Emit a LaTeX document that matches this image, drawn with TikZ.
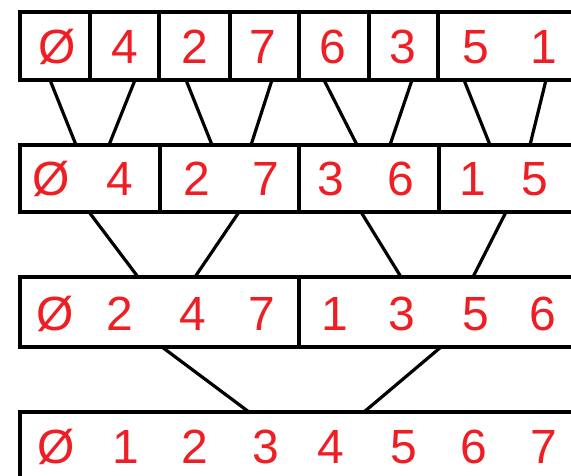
\documentclass[tikz,border=0pt]{standalone}
\usepackage{fontspec}
\setmainfont{Liberation Sans}
\usetikzlibrary{positioning, calc}
\definecolor{digitred}{RGB}{238,30,36}

\tikzset{
    rowbox/.style={draw, line width=3.4pt, inner sep=0pt, outer sep=0pt,
        minimum width=620pt, anchor=north west},
    divider/.style={line width=3.4pt},
    link/.style={line width=3.2pt},
    digit/.style={text=digitred, inner sep=0pt, font=\fontsize{48}{48}\selectfont}
}

\begin{document}
\begin{tikzpicture}[x=1pt, y=-1pt]

    \useasboundingbox (0,0) rectangle (571,476);
    \clip (0,0) rectangle (571,476);

    % Row boxes
    \node[rowbox, minimum height=68pt] (row1) at (20,12) {};
    \node[rowbox, minimum height=67pt] (row2) at (20,145) {};
    \node[rowbox, minimum height=70pt] (row3) at (20,277) {};
    \node[rowbox, minimum height=72pt] (row4) at (20,412) {};

    % Cell dividers
    \foreach \x in {90,159,230,299,369,438}
        \draw[divider] (\x,0 |- row1.north) -- (\x,0 |- row1.south);
    \foreach \x in {160,299,439}
        \draw[divider] (\x,0 |- row2.north) -- (\x,0 |- row2.south);
    \draw[divider] (299,0 |- row3.north) -- (299,0 |- row3.south);

    % Digits
    \foreach \t/\x [count=\i] in {Ø/57,4/125,2/195,7/263,6/333,3/403,5/476,1/544}
        \node[digit] (one\i) at (\x,47) {\t};
    \foreach \t/\x [count=\i] in {Ø/51,4/120,2/197,7/266,3/331,6/401,1/473,5/535}
        \node[digit] (two\i) at (\x,179) {\t};
    \foreach \t/\x [count=\i] in {Ø/55,2/120,4/193,7/262,1/335,3/402,5/476,6/543}
        \node[digit] (three\i) at (\x,314) {\t};
    \foreach \t/\x [count=\i] in {Ø/56,1/126,2/195,3/266,4/331,5/404,6/474,7/544}
        \node[digit] (four\i) at (\x,447) {\t};

    % Merge lines
    \foreach \a/\b in {50/76,135/109,186/212,272/251,324/357,412/390,464/490,546/530}
        \draw[link] (\a,0 |- row1.south) -- (\b,0 |- row2.north);
    \foreach \a/\b in {89/138,239/195,361/401,506/473}
        \draw[link] (\a,0 |- row2.south) -- (\b,0 |- row3.north);
    \foreach \a/\b in {162/249,441/364}
        \draw[link] (\a,0 |- row3.south) -- (\b,0 |- row4.north);

\end{tikzpicture}
\end{document}
